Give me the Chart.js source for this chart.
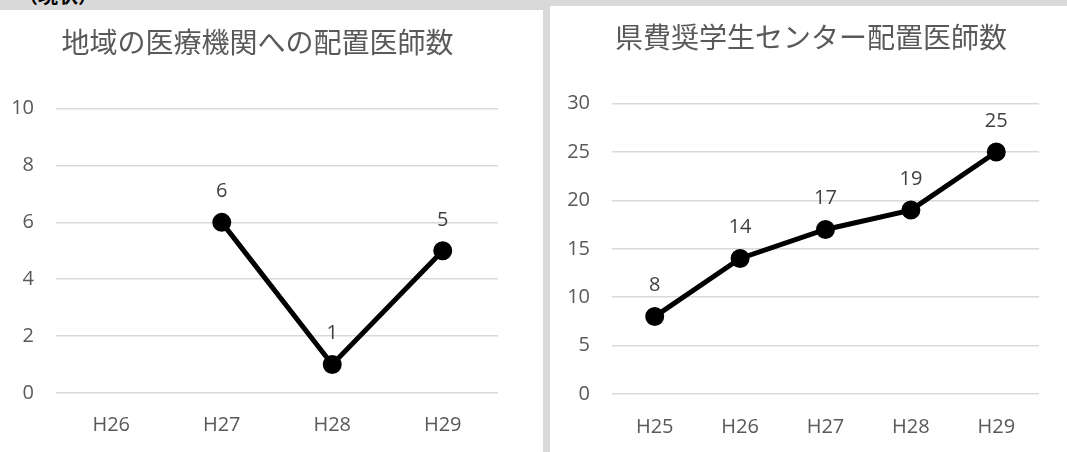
<!DOCTYPE html>
<html lang="ja">
<head>
<meta charset="utf-8">
<script src="https://cdn.jsdelivr.net/npm/chart.js@4/dist/chart.umd.min.js"></script>
<style>
  html, body { margin: 0; padding: 0; }
  body { width: 1067px; height: 452px; background: #d9d9d9; position: relative; overflow: hidden; }
  .note { position: absolute; left: 18px; top: -15px; font: bold 20px/20px "Noto Sans CJK JP", sans-serif; color: #000; }
  .panel { position: absolute; background: #fff; }
  #p-left  { left: 0;     top: 10px; width: 543px; height: 442px; }
  #p-right { left: 550px; top: 6px;  width: 517px; height: 446px; }
</style>
</head>
<body>
<div class="note">（現状）</div>
<div class="panel" id="p-left"><canvas id="chart-left"></canvas></div>
<div class="panel" id="p-right"><canvas id="chart-right"></canvas></div>
<script>
'use strict';

const LEFT_TITLE   = '地域の医療機関への配置医師数';
const LEFT_YEARS   = ['H26', 'H27', 'H28', 'H29'];
const LEFT_VALUES  = [null, 6, 1, 5];
const LEFT_TICKS   = { max: 10, step: 2 };

const RIGHT_TITLE  = '県費奨学生センター配置医師数';
const RIGHT_YEARS  = ['H25', 'H26', 'H27', 'H28', 'H29'];
const RIGHT_VALUES = [8, 14, 17, 19, 25];
const RIGHT_TICKS  = { max: 30, step: 5 };

const FONT_LATIN = '"Open Sans", "Noto Sans", sans-serif';
const FONT_CJK   = '"Noto Sans CJK JP", "Noto Sans", sans-serif';

// value labels drawn above each point
const pointLabels = {
  id: 'pointLabels',
  afterDatasetsDraw(chart) {
    const ctx = chart.ctx;
    chart.data.datasets.forEach((ds, i) => {
      const meta = chart.getDatasetMeta(i);
      meta.data.forEach((pt, j) => {
        const v = ds.data[j];
        if (v === null || v === undefined) return;
        ctx.save();
        ctx.font = '20px ' + FONT_LATIN;
        ctx.fillStyle = '#404040';
        ctx.textAlign = 'center';
        ctx.textBaseline = 'middle';
        ctx.fillText(String(v), pt.x, pt.y - 31);
        ctx.restore();
      });
    });
  },
};

// nudge the title box sideways (the original titles are not centred on the canvas)
const titleShift = {
  id: 'titleShift',
  afterLayout(chart, args, opts) {
    const t = chart.titleBlock;
    if (!t || !opts.dx) return;
    t.left  += opts.dx;
    t.right += opts.dx;
  },
};

// lay: padding, title padding, title shift, y axis box width, x axis tick gap
function makeChart(id, title, labels, values, ticks, lay) {
  return new Chart(document.getElementById(id), {
    type: 'line',
    data: {
      labels,
      datasets: [{
        data:                 values,
        borderColor:          '#000',
        borderWidth:          5,
        pointRadius:          7,
        pointBackgroundColor: '#000',
        pointBorderColor:     '#000',
        tension:              0,
      }],
    },
    options: {
      responsive:          true,
      maintainAspectRatio: false,
      animation:           false,
      layout: { padding: lay.pad },
      plugins: {
        legend:     { display: false },
        tooltip:    { enabled: false },
        titleShift: { dx: lay.titleDx },
        title: {
          display: true,
          text:    title,
          color:   '#595959',
          font:    { family: FONT_CJK, size: 28, weight: 'normal', lineHeight: 1.2 },
          padding: lay.titlePad,
        },
      },
      scales: {
        x: {
          offset: true,
          grid:   { display: false, drawTicks: false },
          border: { display: false },
          ticks:  { color: '#595959', font: { family: FONT_LATIN, size: 20 }, padding: lay.xGap, maxRotation: 0 },
          afterFit: s => { s.height = lay.xGap + 24; },
        },
        y: {
          min: 0,
          max: ticks.max,
          grid:   { color: '#d9d9d9', lineWidth: 1.5, drawTicks: false },
          border: { display: false },
          ticks:  { stepSize: ticks.step, color: '#595959', font: { family: FONT_LATIN, size: 20 }, padding: 22 },
          afterFit: s => { s.width = lay.yWidth; },
        },
      },
    },
    plugins: [pointLabels, titleShift],
  });
}

makeChart('chart-left', LEFT_TITLE, LEFT_YEARS, LEFT_VALUES, LEFT_TICKS, {
  pad: { left: 11, right: 45, top: 0, bottom: 15 },
  titlePad: { top: 16, bottom: 49 },
  titleDx: 3,
  yWidth: 45,
  xGap: 20,
});
makeChart('chart-right', RIGHT_TITLE, RIGHT_YEARS, RIGHT_VALUES, RIGHT_TICKS, {
  pad: { left: 17, right: 28, top: 0, bottom: 13 },
  titlePad: { top: 15, bottom: 49 },
  titleDx: 8,
  yWidth: 45,
  xGap: 21,
});
</script>
</body>
</html>
